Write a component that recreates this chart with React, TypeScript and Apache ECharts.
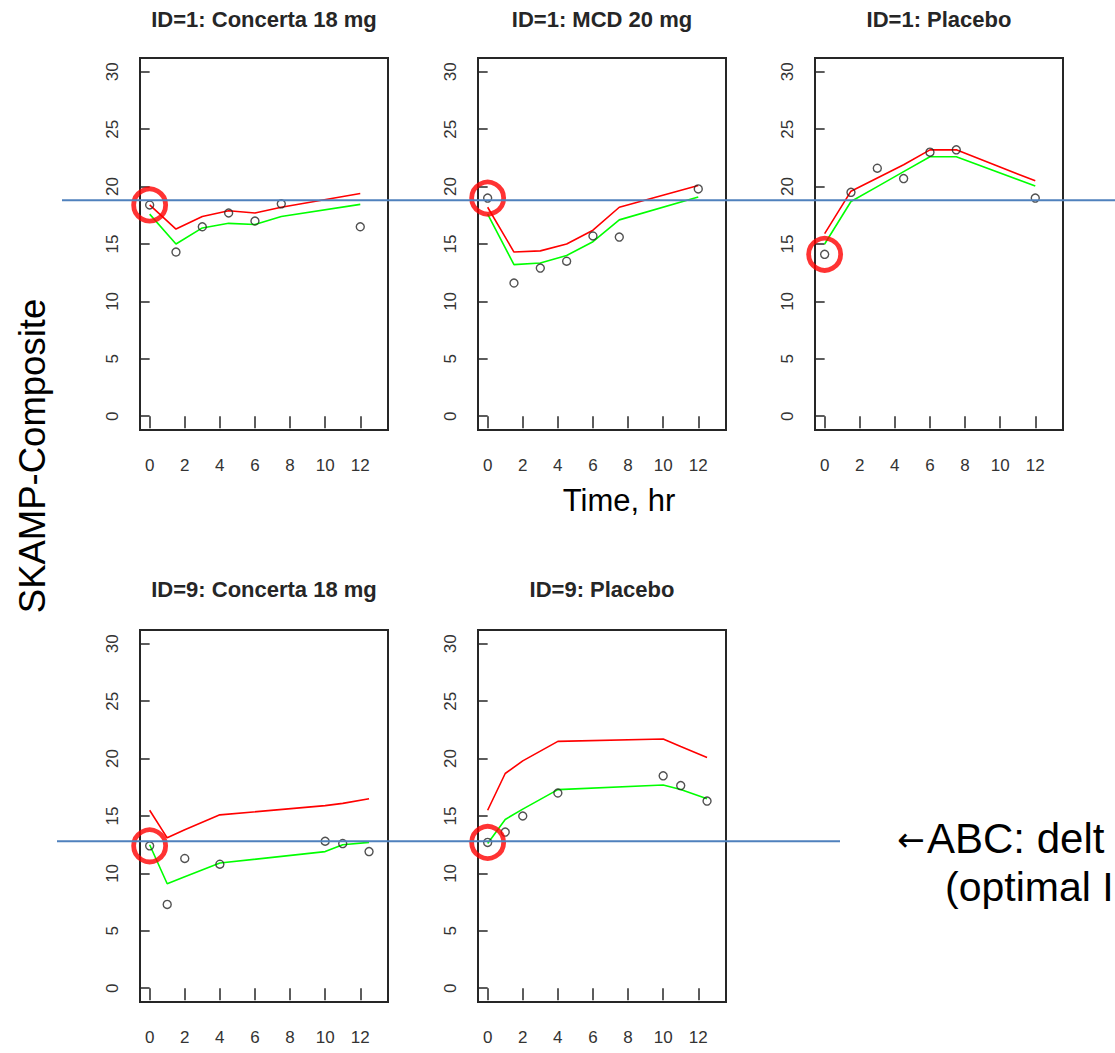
import React, { useEffect, useRef } from "react";
import * as echarts from "echarts";

// Panel titles
const panelTitles = [
  "ID=1: Concerta 18 mg",
  "ID=1: MCD 20 mg",
  "ID=1: Placebo",
  "ID=9: Concerta 18 mg",
  "ID=9: Placebo",
];

// Sampling times (hr)
const id1Times = [0, 1.5, 3, 4.5, 6, 7.5, 12];
const id9Times = [0, 1, 2, 4, 10, 11, 12.5];

// ID=1: Concerta 18 mg
const p1Observed = [18.4, 14.3, 16.5, 17.7, 17.0, 18.5, 16.5];
const p1Red = [18.4, 16.3, 17.4, 17.9, 17.7, 18.2, 19.4];
const p1Green = [17.6, 15.0, 16.4, 16.8, 16.7, 17.4, 18.45];

// ID=1: MCD 20 mg
const p2Observed = [19.0, 11.6, 12.9, 13.5, 15.7, 15.6, 19.8];
const p2Red = [18.2, 14.3, 14.4, 15.0, 16.2, 18.2, 20.1];
const p2Green = [17.6, 13.2, 13.35, 14.0, 15.2, 17.1, 19.1];

// ID=1: Placebo
const p3Observed = [14.1, 19.5, 21.6, 20.7, 23.0, 23.2, 19.0];
const p3Red = [15.9, 19.6, 20.75, 21.9, 23.2, 23.2, 20.5];
const p3Green = [15.0, 18.7, 20.0, 21.3, 22.6, 22.6, 20.05];

// ID=9: Concerta 18 mg
const p4Observed = [12.4, 7.3, 11.3, 10.8, 12.8, 12.6, 11.9];
const p4Red = [15.5, 13.1, 13.8, 15.1, 15.9, 16.1, 16.5];
const p4Green = [12.5, 9.1, 9.7, 10.9, 11.9, 12.5, 12.7];

// ID=9: Placebo
const p5Observed = [12.7, 13.6, 15.0, 17.0, 18.5, 17.65, 16.3];
const p5Red = [15.5, 18.7, 19.8, 21.5, 21.7, 21.05, 20.1];
const p5Green = [12.6, 14.7, 15.6, 17.3, 17.7, 17.3, 16.5];

// ABC baseline reference per row (SKAMP units)
const abcBaseline = [18.8, 12.8];

// Axis ticks
const xTicks = [0, 2, 4, 6, 8, 10, 12];
const yTicks = [0, 5, 10, 15, 20, 25, 30];

const panels = [
  { times: id1Times, obs: p1Observed, red: p1Red, green: p1Green },
  { times: id1Times, obs: p2Observed, red: p2Red, green: p2Green },
  { times: id1Times, obs: p3Observed, red: p3Red, green: p3Green },
  { times: id9Times, obs: p4Observed, red: p4Red, green: p4Green },
  { times: id9Times, obs: p5Observed, red: p5Red, green: p5Green },
];

const gridPos = [
  { left: 140, top: 58 },
  { left: 478, top: 58 },
  { left: 815, top: 58 },
  { left: 140, top: 630 },
  { left: 478, top: 630 },
];
const GRID_W = 248;
const GRID_H = 372;

const FONT = "'Liberation Sans', Arial, Helvetica, sans-serif";
const INK = "#262626";

const pair = (xs: number[], ys: number[]) => xs.map((x, i) => [x, ys[i]]);

export default function App() {
  const ref = useRef<HTMLDivElement>(null);

  useEffect(() => {
    const chart = echarts.init(ref.current!, null, { renderer: "svg" });

    const grid = gridPos.map((g) => ({
      left: g.left,
      top: g.top,
      width: GRID_W,
      height: GRID_H,
      show: true,
      borderColor: INK,
      borderWidth: 2,
      backgroundColor: "transparent",
      containLabel: false,
    }));

    const xAxis = panels.map((_, i) => ({
      type: "value",
      gridIndex: i,
      min: -0.55,
      max: 13.58,
      axisLine: { show: false },
      splitLine: { show: false },
      axisTick: {
        show: true,
        customValues: xTicks,
        length: 12,
        lineStyle: { color: INK, width: 1.5 },
      },
      axisLabel: {
        customValues: xTicks,
        margin: 27,
        fontSize: 17,
        color: "#333",
        fontFamily: FONT,
      },
    }));

    const yAxis = panels.map((_, i) => ({
      type: "value",
      gridIndex: i,
      min: -1.2,
      max: 31.2,
      axisLine: { show: false },
      splitLine: { show: false },
      axisTick: {
        show: true,
        customValues: yTicks,
        length: 10,
        lineStyle: { color: INK, width: 1.5 },
      },
      axisLabel: {
        customValues: yTicks,
        rotate: 90,
        margin: 19,
        fontSize: 17,
        color: "#333",
        fontFamily: FONT,
      },
    }));

    const series: any[] = [];
    panels.forEach((p, i) => {
      series.push({
        type: "line",
        xAxisIndex: i,
        yAxisIndex: i,
        data: pair(p.times, p.green),
        symbol: "none",
        lineStyle: { color: "#00ff00", width: 1.6 },
        z: 2,
      });
      series.push({
        type: "line",
        xAxisIndex: i,
        yAxisIndex: i,
        data: pair(p.times, p.red),
        symbol: "none",
        lineStyle: { color: "#ff0000", width: 1.6 },
        z: 2,
      });
      series.push({
        type: "scatter",
        xAxisIndex: i,
        yAxisIndex: i,
        data: pair(p.times, p.obs),
        symbol: "circle",
        symbolSize: 8,
        itemStyle: { color: "rgba(0,0,0,0)", borderColor: INK, borderWidth: 1.4 },
        z: 3,
      });
      // baseline observation highlight ring
      series.push({
        type: "scatter",
        xAxisIndex: i,
        yAxisIndex: i,
        data: [[p.times[0], p.obs[0]]],
        symbol: "circle",
        symbolSize: 32,
        itemStyle: { color: "rgba(0,0,0,0)", borderColor: "#ff0000", borderWidth: 4.8 },
        z: 5,
      });
    });

    chart.setOption({
      animation: false,
      backgroundColor: "#ffffff",
      grid,
      xAxis,
      yAxis,
      series,
    });

    const yTop = (chart.convertToPixel({ gridIndex: 0 }, [0, abcBaseline[0]]) as number[])[1];
    const yBottom = (chart.convertToPixel({ gridIndex: 3 }, [0, abcBaseline[1]]) as number[])[1];

    const titleEls = panelTitles.map((t, i) => ({
      type: "text",
      x: gridPos[i].left + GRID_W / 2,
      y: i < 3 ? 19 : 589,
      style: {
        text: t,
        font: `bold 22px ${FONT}`,
        fill: INK,
        textAlign: "center",
        textVerticalAlign: "middle",
      },
    }));

    chart.setOption({
      graphic: [
        ...titleEls,
        {
          type: "text",
          x: 32,
          y: 456,
          rotation: Math.PI / 2,
          style: {
            text: "SKAMP-Composite",
            font: `36.5px ${FONT}`,
            fill: "#000",
            textAlign: "center",
            textVerticalAlign: "middle",
          },
        },
        {
          type: "text",
          x: 619,
          y: 500,
          style: {
            text: "Time, hr",
            font: `31px ${FONT}`,
            fill: "#000",
            textAlign: "center",
            textVerticalAlign: "middle",
          },
        },
        {
          type: "line",
          shape: { x1: 62, y1: yTop, x2: 1115, y2: yTop },
          style: { stroke: "#4f81bd", lineWidth: 2 },
          z: 10,
        },
        {
          type: "line",
          shape: { x1: 57, y1: yBottom, x2: 840, y2: yBottom },
          style: { stroke: "#4f81bd", lineWidth: 2 },
          z: 10,
        },
        {
          type: "text",
          x: 897,
          y: 839,
          style: {
            text: "←",
            font: `33px 'DejaVu Sans', sans-serif`,
            fill: "#000",
            textAlign: "left",
            textVerticalAlign: "middle",
          },
        },
        {
          type: "text",
          x: 927,
          y: 838,
          style: {
            text: "ABC: delt",
            font: `42px ${FONT}`,
            fill: "#000",
            textAlign: "left",
            textVerticalAlign: "middle",
          },
        },
        {
          type: "text",
          x: 945,
          y: 887,
          style: {
            text: "(optimal I",
            font: `41px ${FONT}`,
            fill: "#000",
            textAlign: "left",
            textVerticalAlign: "middle",
          },
        },
      ],
    });

    return () => chart.dispose();
  }, []);

  return (
    <div
      ref={ref}
      style={{ position: "absolute", left: 0, top: 0, width: 1115, height: 1053 }}
    />
  );
}
